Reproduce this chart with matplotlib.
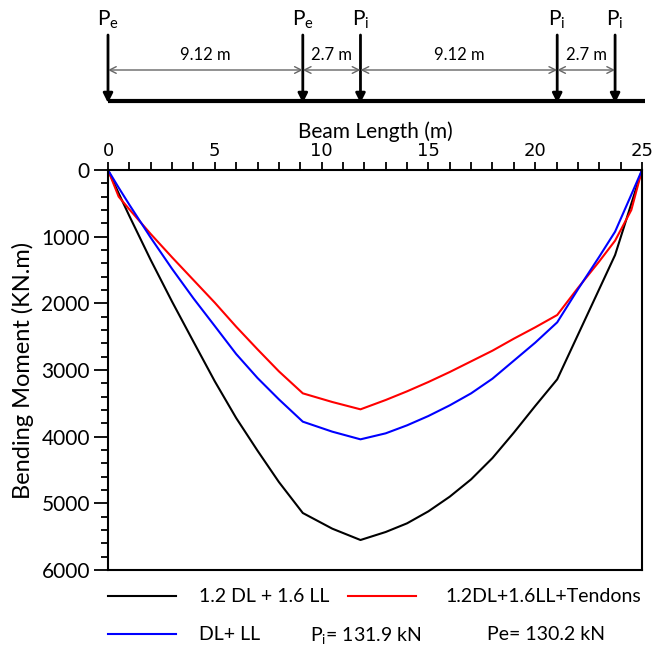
import matplotlib
matplotlib.use("Agg")
import matplotlib.pyplot as plt
from matplotlib.ticker import MultipleLocator

plt.rcParams['font.family'] = ['Lato', 'DejaVu Sans']
plt.rcParams['mathtext.fontset'] = 'custom'
plt.rcParams['mathtext.rm'] = 'Lato'
plt.rcParams['mathtext.it'] = 'Lato:italic'

# positions along the beam (m)
x = [0, 0.5, 1, 2, 3, 4, 5, 6, 7, 8, 9.12, 10.5, 11.82, 13, 14, 15, 16, 17,
     18, 19, 20, 21.03, 22, 23, 23.74, 24.5, 25]
# bending moments (kN.m)
m_factored = [0, 350, 690, 1350, 1975, 2575, 3170, 3720, 4210, 4680, 5145,
              5380, 5550, 5430, 5300, 5120, 4900, 4640, 4320, 3940, 3540,
              3140, 2473, 1785, 1275, 506, 0]
m_tendons = [0, 400, 590, 960, 1310, 1650, 1990, 2350, 2690, 3020, 3350,
             3480, 3590, 3450, 3320, 3180, 3030, 2870, 2710, 2530, 2360,
             2175, 1770, 1370, 1060, 600, 0]
m_service = [0, 265, 521, 1015, 1483, 1925, 2341, 2760, 3120, 3440, 3775,
             3925, 4040, 3950, 3830, 3690, 3530, 3350, 3130, 2860, 2590,
             2285, 1790, 1300, 925, 370, 0]

# tendon forces sketch
load_x = [0, 9.12, 11.82, 21.03, 23.74]
load_sub = ['e', 'e', 'i', 'i', 'i']
spans = ['9.12 m', '2.7 m', '9.12 m', '2.7 m']

W, H = 654, 650
fig = plt.figure(figsize=(W / 100, H / 100), dpi=100)

L, R, T, B = 108, 642, 170, 570
ax = fig.add_axes([L / W, 1 - B / H, (R - L) / W, (B - T) / H])

ax.plot(x, m_factored, color='black', lw=1.5, label='1.2 DL + 1.6 LL')
ax.plot(x, m_tendons, color='red', lw=1.5, label='1.2DL+1.6LL+Tendons')
ax.plot(x, m_service, color='blue', lw=1.5, label='DL+ LL')

ax.set_xlim(0, 25)
ax.set_ylim(6000, 0)
ax.xaxis.set_major_locator(MultipleLocator(5))
ax.xaxis.set_minor_locator(MultipleLocator(1))
ax.yaxis.set_major_locator(MultipleLocator(1000))
ax.yaxis.set_minor_locator(MultipleLocator(200))
ax.xaxis.tick_top()
ax.xaxis.set_label_position('top')
ax.tick_params(axis='x', which='both', direction='out', length=6, width=1.3,
               top=True, bottom=False, pad=1, labelsize=13)
for lab in ax.get_xticklabels():
    lab.set_family('DejaVu Sans')
ax.tick_params(axis='y', which='major', direction='out', length=10, width=1.3,
               labelsize=15, pad=3)
ax.tick_params(axis='y', which='minor', direction='out', length=5, width=1.3)
for s in ax.spines.values():
    s.set_linewidth(1.5)
ax.set_xlabel('Beam Length (m)', fontsize=15, labelpad=3)
ax.set_ylabel('Bending Moment (KN.m)', fontsize=17, labelpad=5)

# legend entries placed below the axes
handles = ax.get_lines()
fs = 14
for h, (px, py) in zip(handles, [(108, 597), (348, 597), (108, 635)]):
    fig.legend([h], [h.get_label()], loc='center left',
               bbox_to_anchor=(px / W, 1 - py / H), frameon=False,
               fontsize=fs, borderpad=0, borderaxespad=0,
               handlelength=3.5, handletextpad=1.2 if px == 108 else 1.5)
fig.text(310 / W, 1 - 635 / H, 'P$_\\mathrm{i}$= 131.9 kN', fontsize=fs,
         va='center', ha='left')
fig.text(487 / W, 1 - 635 / H, 'Pe= 130.2 kN', fontsize=fs,
         va='center', ha='left')

# beam sketch with tendon forces, pixel-like y coordinates
top = fig.add_axes([L / W, 1 - 112 / H, (R - L) / W, 112 / H])
top.set_xlim(0, 25)
top.set_ylim(112, 0)
top.axis('off')
top.plot([0, 25.15], [101, 101], color='black', lw=3, clip_on=False,
         solid_capstyle='butt')
for lx, sub in zip(load_x, load_sub):
    top.annotate('', xy=(lx, 103), xytext=(lx, 35),
                 arrowprops=dict(arrowstyle='-|>', color='black', lw=2,
                                 mutation_scale=14, shrinkA=0, shrinkB=0),
                 annotation_clip=False)
    top.text(lx, 20, 'P$_\\mathrm{' + sub + '}$', fontsize=15,
             ha='center', va='center', clip_on=False)
for x0, x1, txt in zip(load_x[:-1], load_x[1:], spans):
    top.annotate('', xy=(x1, 70), xytext=(x0, 70),
                 arrowprops=dict(arrowstyle='<->', color='#666666', lw=1,
                                 mutation_scale=12, shrinkA=0, shrinkB=0),
                 annotation_clip=False)
    top.text((x0 + x1) / 2, 55, txt, fontsize=12, ha='center', va='center')

fig.savefig('out.png', dpi=100)
